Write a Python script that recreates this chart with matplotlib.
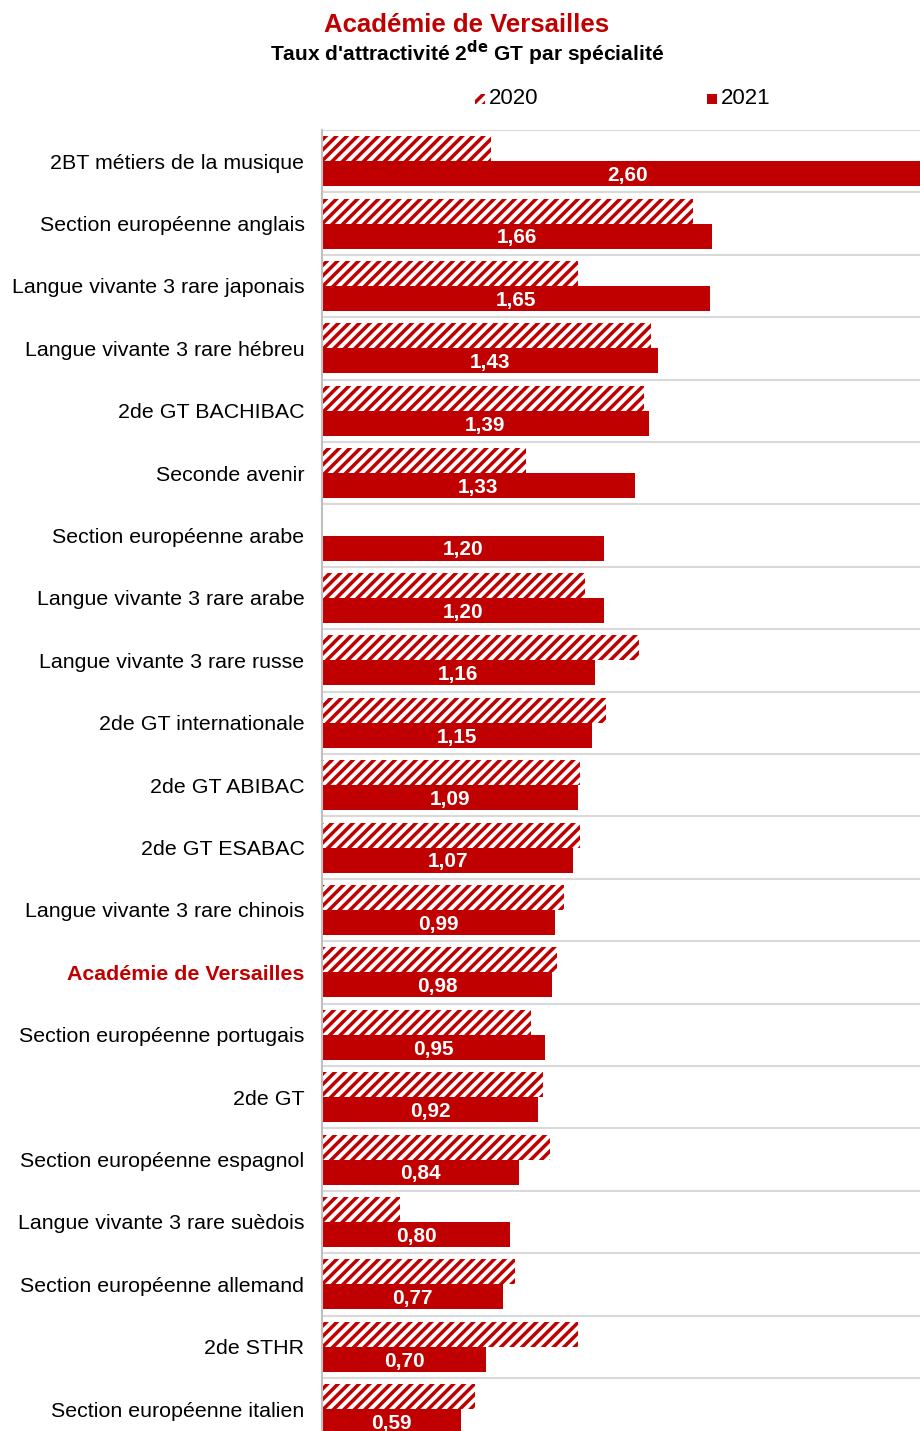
import matplotlib.pyplot as plt
import matplotlib.patches as mpatches
import numpy as np

plt.rcParams['font.family'] = ['Liberation Sans', 'DejaVu Sans']
plt.rcParams['hatch.linewidth'] = 2.0
plt.rcParams['hatch.color'] = '#C00000'

categories = [
    "2BT métiers de la musique", "Section européenne anglais",
    "Langue vivante 3 rare japonais", "Langue vivante 3 rare hébreu",
    "2de GT BACHIBAC", "Seconde avenir", "Section européenne arabe",
    "Langue vivante 3 rare arabe", "Langue vivante 3 rare russe",
    "2de GT internationale", "2de GT ABIBAC", "2de GT ESABAC",
    "Langue vivante 3 rare chinois", "Académie de Versailles",
    "Section européenne portugais", "2de GT", "Section européenne espagnol",
    "Langue vivante 3 rare suèdois", "Section européenne allemand",
    "2de STHR", "Section européenne italien",
]
v2020 = [0.72, 1.58, 1.09, 1.40, 1.37, 0.87, np.nan, 1.12, 1.35, 1.21,
         1.10, 1.10, 1.03, 1.00, 0.89, 0.94, 0.97, 0.33, 0.82, 1.09, 0.65]
v2021 = [2.60, 1.66, 1.65, 1.43, 1.39, 1.33, 1.20, 1.20, 1.16, 1.15,
         1.09, 1.07, 0.99, 0.98, 0.95, 0.92, 0.84, 0.80, 0.77, 0.70, 0.59]

red = '#C00000'
dpi = 126
fig = plt.figure(figsize=(920 / dpi, 1431 / dpi), dpi=dpi)
ax = fig.add_axes([322 / 920, 0, 1 - 322 / 920, 1 - 130 / 1431])

y = np.arange(len(categories))
h = 0.4
xmax = 2.545
ax.barh(y - h / 2, v2020, height=h, color='white', edgecolor=red,
        hatch='////', linewidth=0, label='2020')
ax.barh(y + h / 2, v2021, height=h, color=red, linewidth=0, label='2021')

for yi, v in zip(y, v2021):
    # the first bar is cut by the right edge, label sits a bit right of its visible centre
    xpos = v / 2 if v <= xmax else xmax / 2 + 0.03
    ax.text(xpos, yi + h / 2 + 0.03, f"{v:.2f}".replace('.', ','),
            ha='center', va='center', color='white', fontweight='bold',
            fontsize=11.9)

ax.set_xlim(0, xmax)
ax.set_ylim(len(categories) - 0.65, -0.5)
for b in np.arange(-0.5, len(categories), 1):
    ax.axhline(b, color='#D9D9D9', linewidth=1.2, zorder=0)

ax.set_yticks(y)
ax.set_yticklabels(categories, fontsize=12.2)
ax.tick_params(axis='y', length=0, pad=10)
ax.set_xticks([])
for lab in ax.get_yticklabels():
    if lab.get_text() == "Académie de Versailles":
        lab.set_color(red)
        lab.set_fontweight('bold')
for s in ['top', 'right', 'bottom']:
    ax.spines[s].set_visible(False)
ax.spines['left'].set_color('#BFBFBF')
ax.spines['left'].set_linewidth(1.2)

fig.text(467 / 920, 1 - 25 / 1431, "Académie de Versailles", ha='center',
         va='center', color=red, fontweight='bold', fontsize=14.7)
fig.text(467 / 920, 1 - 53 / 1431,
         r"Taux d'attractivité 2$^{\mathbf{de}}$ GT par spécialité",
         ha='center', va='center', fontweight='bold', fontsize=12)

# legend drawn by hand
W, H = 920, 1431
for x0, txt, hatched in [(475, '2020', True), (707, '2021', False)]:
    sq = mpatches.Rectangle((x0 / W, 1 - 104 / H), 10 / W, 10 / H,
                            transform=fig.transFigure, linewidth=0,
                            facecolor='white' if hatched else red,
                            edgecolor=red, hatch='////' if hatched else None)
    fig.add_artist(sq)
    fig.text((x0 + 14) / W, 1 - 99 / H, txt, ha='left', va='center',
             fontsize=12.7)

fig.savefig('out.png', dpi=dpi)
